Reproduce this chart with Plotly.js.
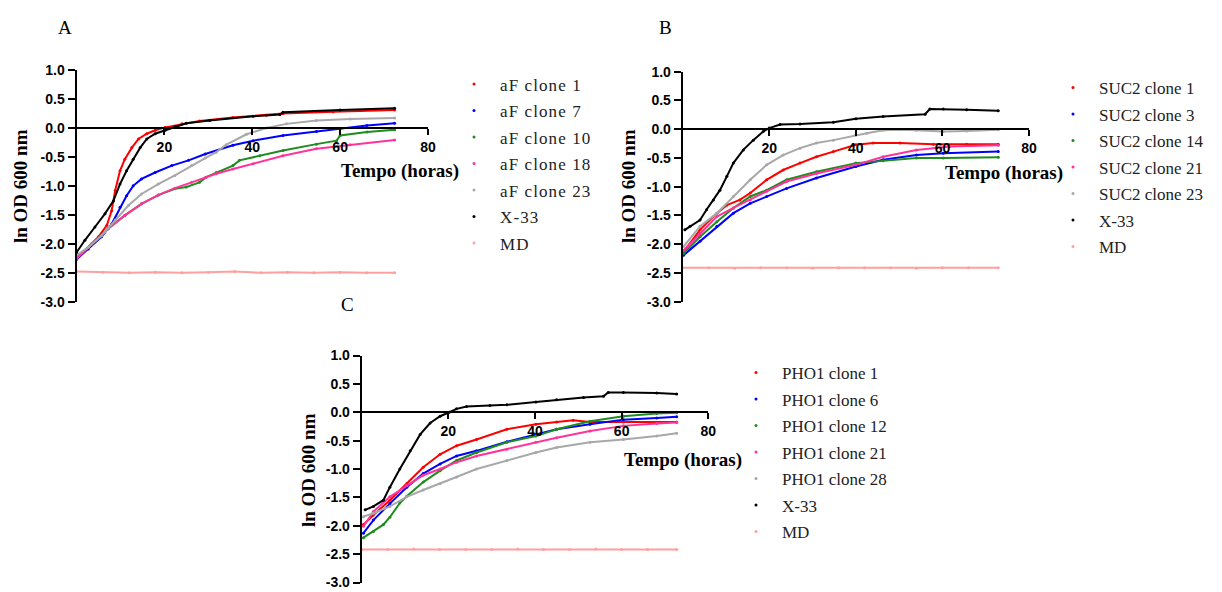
<!DOCTYPE html>
<html><head><meta charset="utf-8">
<script src="https://cdn.plot.ly/plotly-3.0.1.min.js"></script>
<style>
html,body{margin:0;padding:0;background:#fff;}
#chart{width:1222px;height:592px;}
.legendlines{display:none;}
.legendtext{letter-spacing:1.1px;}
</style></head><body><div id="chart"></div>
<script>
// ---------- tick labels ----------
const xTickVals = [20, 40, 60, 80];
const xTickText = ['20', '40', '60', '80'];
const yTickVals = [-3, -2.5, -2, -1.5, -1, -0.5, 0, 0.5, 1];
const yTickText = ['-3.0', '-2.5', '-2.0', '-1.5', '-1.0', '-0.5', '0.0', '0.5', '1.0'];

// ---------- legend names ----------
const namesA = ['aF clone 1', 'aF clone 7', 'aF clone 10', 'aF clone 18', 'aF clone 23', 'X-33', 'MD'];
const namesB = ['SUC2 clone 1', 'SUC2 clone 3', 'SUC2 clone 14', 'SUC2 clone 21', 'SUC2 clone 23', 'X-33', 'MD'];
const namesC = ['PHO1 clone 1', 'PHO1 clone 6', 'PHO1 clone 12', 'PHO1 clone 21', 'PHO1 clone 28', 'X-33', 'MD'];

// ---------- Panel A (hours, ln OD600) ----------
const tA_c1 = [0, 2.7, 5, 6.9, 8, 8.8, 9.9, 11, 12.6, 14.1, 16, 17.9, 20.2, 24, 28, 35.6, 43.2, 47, 58.4, 72.4];
const vA_c1 = [-2.24, -2.06, -1.88, -1.68, -1.43, -1.08, -0.74, -0.54, -0.34, -0.19, -0.10, -0.04, 0.01, 0.07, 0.12, 0.18, 0.22, 0.25, 0.28, 0.31];
const tA_c7 = [0, 2.7, 5.7, 8, 9.9, 11.4, 12.9, 14.8, 17.9, 21.7, 25.5, 29.3, 35.6, 40.2, 47, 54.6, 60, 66.1, 72.4];
const vA_c7 = [-2.27, -2.09, -1.88, -1.66, -1.37, -1.17, -1.0, -0.88, -0.77, -0.65, -0.56, -0.45, -0.30, -0.22, -0.13, -0.06, -0.01, 0.04, 0.08];
const tA_c10 = [0, 3.5, 7.2, 11, 14.8, 18.6, 22.4, 25, 28, 29.5, 31.8, 35.6, 37.1, 41.7, 47, 54.6, 59.2, 60, 66.1, 72.4];
const vA_c10 = [-2.24, -2.0, -1.74, -1.51, -1.31, -1.16, -1.05, -1.02, -0.94, -0.85, -0.77, -0.65, -0.56, -0.48, -0.39, -0.28, -0.22, -0.13, -0.07, -0.03];
const tA_c18 = [0, 3.5, 7.2, 11, 14.8, 18.6, 22.4, 26.2, 29.3, 31.8, 35.6, 40.2, 47, 54.6, 62.3, 72.4];
const vA_c18 = [-2.26, -2.0, -1.74, -1.51, -1.31, -1.16, -1.04, -0.94, -0.86, -0.79, -0.71, -0.62, -0.48, -0.36, -0.29, -0.21];
const tA_c23 = [0, 2.7, 5.7, 8.8, 11.8, 14.8, 18.6, 22.4, 26.2, 29.3, 31.8, 34.1, 38.7, 43.2, 47.8, 54.6, 62.3, 72.4];
const vA_c23 = [-2.2, -2.06, -1.86, -1.59, -1.34, -1.14, -0.97, -0.82, -0.65, -0.52, -0.42, -0.29, -0.11, 0.0, 0.07, 0.13, 0.155, 0.17];
const tA_x33 = [0, 1.9, 4.2, 6.5, 8.4, 9.9, 11.4, 12.9, 14.5, 16, 17.9, 20.2, 22.4, 25, 30.3, 40.2, 46.3, 47, 60, 72.4];
const vA_x33 = [-2.15, -1.94, -1.71, -1.48, -1.26, -0.97, -0.74, -0.54, -0.34, -0.19, -0.10, -0.04, 0.02, 0.08, 0.13, 0.20, 0.23, 0.27, 0.31, 0.34];
const tA_md = [0, 6, 12, 18, 24, 30, 36, 42, 48, 54, 60, 66, 72.4];
const vA_md = [-2.48, -2.49, -2.50, -2.49, -2.50, -2.49, -2.48, -2.50, -2.49, -2.50, -2.49, -2.50, -2.50];

// ---------- Panel B ----------
const tB_c1 = [0.2, 4, 7.9, 10.2, 13.2, 15.6, 19.4, 23.2, 27.1, 30.9, 34.8, 40, 44, 50.2, 57.9, 65.6, 72.9];
const vB_c1 = [-2.13, -1.75, -1.46, -1.32, -1.23, -1.11, -0.88, -0.71, -0.59, -0.48, -0.39, -0.27, -0.24, -0.24, -0.26, -0.26, -0.26];
const tB_c3 = [0.2, 4, 7.9, 11.7, 15.6, 19.4, 24, 30.9, 40, 46.3, 54, 60.2, 72.9];
const vB_c3 = [-2.19, -1.95, -1.69, -1.46, -1.29, -1.17, -1.03, -0.85, -0.65, -0.53, -0.45, -0.42, -0.39];
const tB_c14 = [0.2, 4, 7.9, 11.7, 15.6, 19.4, 24, 30.9, 40, 46.3, 54, 60.2, 72.9];
const vB_c14 = [-2.16, -1.87, -1.61, -1.37, -1.17, -1.06, -0.88, -0.74, -0.59, -0.55, -0.50, -0.50, -0.49];
const tB_c21 = [0.2, 4, 7.9, 11.7, 15.6, 19.4, 24, 30.9, 40, 46.3, 54, 61.7, 72.9];
const vB_c21 = [-2.11, -1.81, -1.52, -1.37, -1.23, -1.08, -0.91, -0.77, -0.62, -0.48, -0.36, -0.30, -0.28];
const tB_c23 = [0.2, 4, 7.9, 11.7, 15.6, 19.4, 23.2, 27.1, 30.9, 34.8, 40, 42.5, 46.3, 50.2, 54, 60.2, 65.6, 72.9];
const vB_c23 = [-2.04, -1.69, -1.46, -1.17, -0.88, -0.62, -0.45, -0.33, -0.24, -0.19, -0.10, -0.07, -0.02, -0.01, -0.02, -0.04, -0.03, -0.01];
const tB_x33 = [0.5, 1.7, 4, 5.5, 7.1, 8.6, 10.2, 11.7, 14, 16.3, 18.6, 20, 22.5, 27.1, 34.8, 40, 46.3, 56, 57.1, 60.2, 65.6, 72.9];
const vB_x33 = [-1.75, -1.69, -1.58, -1.40, -1.23, -1.06, -0.82, -0.59, -0.36, -0.19, -0.04, 0.02, 0.08, 0.09, 0.12, 0.18, 0.22, 0.26, 0.35, 0.35, 0.34, 0.32];
const tB_md = [0, 6, 12, 18, 24, 30, 36, 42, 48, 54, 60, 66, 72.9];
const vB_md = [-2.41, -2.41, -2.42, -2.41, -2.41, -2.42, -2.41, -2.41, -2.41, -2.42, -2.41, -2.41, -2.41];

// ---------- Panel C ----------
const tC_c1 = [0.4, 2.7, 6.5, 10.4, 14.2, 18.1, 21.9, 26.5, 33.5, 40.2, 45, 48.8, 52.7, 60.4, 72.7];
const vC_c1 = [-1.98, -1.81, -1.55, -1.26, -0.97, -0.74, -0.59, -0.48, -0.30, -0.21, -0.17, -0.14, -0.17, -0.17, -0.17];
const tC_c6 = [0.4, 2.7, 6.5, 10.4, 14.2, 18.1, 21.9, 26.5, 33.5, 40.2, 45, 52.7, 60.4, 68.1, 72.7];
const vC_c6 = [-2.13, -1.90, -1.61, -1.32, -1.08, -0.91, -0.77, -0.68, -0.52, -0.39, -0.30, -0.21, -0.13, -0.10, -0.08];
const tC_c12 = [0.4, 2.7, 5, 6.5, 8.8, 10.4, 14.2, 18.1, 21.9, 26.5, 33.5, 40.2, 45, 52.7, 60.4, 68.1, 72.7];
const vC_c12 = [-2.21, -2.10, -1.98, -1.85, -1.60, -1.48, -1.23, -1.03, -0.85, -0.71, -0.53, -0.42, -0.30, -0.16, -0.07, -0.02, -0.01];
const tC_c21 = [0.4, 2.7, 6.5, 10.4, 14.2, 18.1, 21.9, 26.5, 33.5, 40.2, 45, 52.7, 60.4, 68.1, 72.7];
const vC_c21 = [-2.01, -1.75, -1.49, -1.29, -1.11, -1.0, -0.88, -0.77, -0.65, -0.53, -0.45, -0.33, -0.24, -0.20, -0.18];
const tC_c28 = [0.4, 2.7, 6.5, 10.4, 14.2, 18.1, 21.9, 26.5, 33.5, 40.2, 45, 52.7, 60.4, 68.1, 72.7];
const vC_c28 = [-1.84, -1.78, -1.66, -1.49, -1.37, -1.26, -1.14, -1.0, -0.85, -0.71, -0.62, -0.53, -0.48, -0.42, -0.37];
const tC_x33 = [0.8, 2.7, 5, 6.5, 8.8, 11.2, 13.5, 15.8, 18.1, 20.2, 21.9, 24.2, 29.6, 33.5, 40.2, 45, 51.2, 55.8, 56.9, 60.4, 68.1, 72.7];
const vC_x33 = [-1.72, -1.66, -1.55, -1.32, -1.0, -0.68, -0.39, -0.19, -0.07, 0.0, 0.06, 0.10, 0.12, 0.13, 0.18, 0.22, 0.26, 0.28, 0.35, 0.35, 0.34, 0.32];
const tC_md = [0, 6, 12, 18, 24, 30, 36, 42, 48, 54, 60, 66, 72.7];
const vC_md = [-2.42, -2.42, -2.41, -2.42, -2.42, -2.42, -2.41, -2.42, -2.42, -2.41, -2.42, -2.42, -2.42];

// ---------- styling ----------
const seriesColors = ['#ff0000', '#0000ff', '#1e8c1e', '#ff3399', '#a8a8a8', '#000000', '#ffa0a0'];
const W = 1222, H = 592;
const px = v => v / W;
const py = v => 1 - v / H;

const panels = [
  {t: [tA_c1, tA_c7, tA_c10, tA_c18, tA_c23, tA_x33, tA_md],
   v: [vA_c1, vA_c7, vA_c10, vA_c18, vA_c23, vA_x33, vA_md], names: namesA,
   x0: 76.5, x80: 428, yTop: 70, yBot: 301.7, legX: 448, legY: 66.5,
   letter: 'A', letterPos: [65, 28], xt: [400, 171], yt: [20, 186]},
  {t: [tB_c1, tB_c3, tB_c14, tB_c21, tB_c23, tB_x33, tB_md],
   v: [vB_c1, vB_c3, vB_c14, vB_c21, vB_c23, vB_x33, vB_md], names: namesB,
   x0: 682.7, x80: 1029, yTop: 71.7, yBot: 301.7, legX: 1047, legY: 70,
   letter: 'B', letterPos: [665, 27], xt: [1004, 173], yt: [628, 186]},
  {t: [tC_c1, tC_c6, tC_c12, tC_c21, tC_c28, tC_x33, tC_md],
   v: [vC_c1, vC_c6, vC_c12, vC_c21, vC_c28, vC_x33, vC_md], names: namesC,
   x0: 361.7, x80: 708.3, yTop: 355.5, yBot: 582.5, legX: 730, legY: 355,
   letter: 'C', letterPos: [347, 304], xt: [683, 460], yt: [308, 470]}
];

const tickFont = {family: 'Liberation Sans, Arial, sans-serif', size: 14, color: '#000', weight: 700};
const titleFont = {family: 'Liberation Serif, Times New Roman, serif', size: 19, color: '#000', weight: 700};
const letterFont = {family: 'Liberation Serif, Times New Roman, serif', size: 19, color: '#000'};

const data = [];
const layout = {
  width: W, height: H, autosize: false,
  margin: {l: 0, r: 0, t: 0, b: 0, pad: 0, autoexpand: false},
  paper_bgcolor: '#fff', plot_bgcolor: 'rgba(0,0,0,0)',
  showlegend: true, annotations: []
};

panels.forEach((p, i) => {
  const sfx = i === 0 ? '' : String(i + 1);
  const legName = 'legend' + sfx;
  p.t.forEach((tt, k) => {
    data.push({
      type: 'scatter', mode: 'lines+markers',
      x: tt, y: p.v[k], name: p.names[k],
      xaxis: 'x' + sfx, yaxis: 'y' + sfx,
      legend: legName, legendgroup: 'g' + i + '_' + k,
      line: {color: seriesColors[k], width: 2},
      marker: {color: seriesColors[k], size: 3},
      hoverinfo: 'skip'
    });
  });
  const zeroPy = p.yTop + (p.yBot - p.yTop) * 0.25;
  layout['xaxis' + sfx] = {
    domain: [px(p.x0), px(p.x80)], range: [0, 80],
    anchor: 'free', position: py(zeroPy),
    showline: true, linecolor: '#000', linewidth: 2,
    ticks: 'outside', ticklen: 6, tickwidth: 2, tickcolor: '#000',
    tickvals: xTickVals, ticktext: xTickText, tickfont: tickFont,
    ticklabeloverflow: 'allow',
    showgrid: false, zeroline: false, fixedrange: true
  };
  layout['yaxis' + sfx] = {
    domain: [py(p.yBot), py(p.yTop)], range: [-3, 1],
    anchor: 'x' + sfx,
    showline: true, linecolor: '#000', linewidth: 2,
    ticks: 'outside', ticklen: 7, tickwidth: 2, tickcolor: '#000',
    tickvals: yTickVals, ticktext: yTickText, tickfont: tickFont,
    ticklabeloverflow: 'allow',
    showgrid: false, zeroline: false, fixedrange: true
  };
  layout[legName] = {
    x: px(p.legX), y: py(p.legY), xanchor: 'left', yanchor: 'top',
    xref: 'paper', yref: 'paper',
    bgcolor: 'rgba(0,0,0,0)', borderwidth: 0,
    itemwidth: 42, traceorder: 'grouped', tracegroupgap: 1.4,
    font: {family: 'Liberation Serif, Times New Roman, serif', size: 17, color: '#222'},
    itemclick: false, itemdoubleclick: false
  };
  layout.annotations.push(
    {text: p.letter, xref: 'paper', yref: 'paper', x: px(p.letterPos[0]), y: py(p.letterPos[1]),
     xanchor: 'center', yanchor: 'middle', showarrow: false, font: letterFont},
    {text: 'Tempo (horas)', xref: 'paper', yref: 'paper', x: px(p.xt[0]), y: py(p.xt[1]),
     xanchor: 'center', yanchor: 'middle', showarrow: false, font: titleFont},
    {text: 'ln OD 600 nm', xref: 'paper', yref: 'paper', x: px(p.yt[0]), y: py(p.yt[1]),
     xanchor: 'center', yanchor: 'middle', textangle: -90, showarrow: false, font: titleFont}
  );
});

Plotly.newPlot('chart', data, layout, {staticPlot: true, displayModeBar: false});
</script></body></html>
